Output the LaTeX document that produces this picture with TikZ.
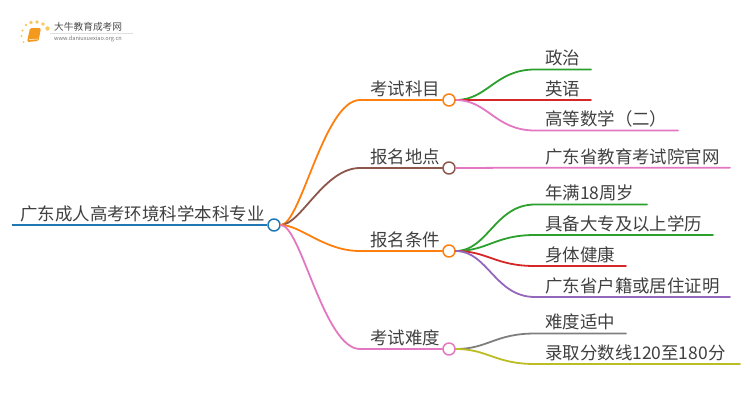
\documentclass[tikz,border=0pt]{standalone}
\usepackage{fontspec}
\setmainfont{Noto Sans CJK SC}

\definecolor{cBlue}{HTML}{1F77B4}
\definecolor{cOrange}{HTML}{FF7F0E}
\definecolor{cBrown}{HTML}{8C564B}
\definecolor{cPink}{HTML}{E377C2}
\definecolor{cGreen}{HTML}{2CA02C}
\definecolor{cRed}{HTML}{D62728}
\definecolor{cPurple}{HTML}{9467BD}
\definecolor{cGray}{HTML}{7F7F7F}
\definecolor{cOlive}{HTML}{BCBD22}
\definecolor{cText}{HTML}{404040}
\definecolor{cBook}{HTML}{F39A1E}
\definecolor{cSpark}{HTML}{F9C75C}

\tikzset{
  label/.style={anchor=south west, inner sep=0pt, text height=15pt, text depth=4.5pt,
    text=cText, font=\fontsize{17.45}{20}\selectfont},
  dot/.style={circle, draw, fill=white, line width=1.5pt, minimum size=12pt, inner sep=0pt},
  wire/.style={line width=1.8pt, line cap=round},
}

\begin{document}
\begin{tikzpicture}[x=1pt,y=-1pt, line join=round]

\useasboundingbox (0,0) rectangle (750,410);

% -----------------------------
% Logo
% -----------------------------
\foreach \px/\py/\pr in {26/25/1.4,31/22.5/1.8,37/22/1.9,43/24/1.9,47.5/28.5/2.2,22.5/30.5/1.2,21.5/36/1.1,23.5/42/1}
  \fill[cSpark] (\px,\py) circle (\pr);
\fill[cBook, rounded corners=1.5pt] (30,28) -- (41,28) -- (38.5,41) -- (27,42) -- cycle;
\draw[white, line width=0.5pt] (29,39.5) -- (38,39);
\node[anchor=west, inner sep=0pt, text=black!70, font=\fontsize{9.7}{11}\selectfont] (logoname) at (54,27) {大牛教育成考网};
\node[anchor=west, inner sep=0pt, text=black!55, font=\fontsize{5.6}{7}\selectfont] (logourl) at (54,39) {www.daniuxuexiao.org.cn};
\draw[black!12, line width=0.4pt] (50,33.5) -- (133,33.5);

% -----------------------------
% Root
% -----------------------------
\node[label] (root) at (20,225) {广东成人高考环境科学本科专业};
\node[dot, draw=cBlue] (rootdot) at (274,225) {};
\coordinate (rootstart) at (12,225);
\draw[cBlue, line width=2.4pt] (rootstart) -- (rootdot.west);

% -----------------------------
% Branches (circle last, so it covers the line end)
% -----------------------------
\foreach \nm/\yy/\col/\txt in {kemu/100/cOrange/考试科目, didian/168/cBrown/报名地点,
                               tiaojian/251/cOrange/报名条件, nandu/349/cPink/考试难度} {
  \node[label] (\nm) at (370,\yy) {\txt};
  \coordinate (\nm start) at (360,\yy);
  \node[dot, draw=\col] (\nm dot) at (449,\yy) {};
  \draw[wire, \col] (rootdot.east) .. controls +(20,0) and +(-36,0) .. (\nm start) -- (\nm dot.west);
}

% -----------------------------
% Leaves: name / line height / parent / colour / line end / text
% -----------------------------
\foreach \nm/\yy/\up/\col/\xend/\txt in {
    zhengzhi/69.5/kemu/cGreen/591/政治,
    yingyu/100/kemu/cRed/591/英语,
    gaoshu/130.5/kemu/cPink/678/高等数学（二）,
    guanwang/167.7/didian/cPink/730/广东省教育考试院官网,
    nianman/204.5/tiaojian/cGreen/647/年满18周岁,
    juli/235/tiaojian/cGreen/713/具备大专及以上学历,
    shenti/266/tiaojian/cRed/626/身体健康,
    huji/297/tiaojian/cPurple/730/广东省户籍或居住证明,
    shidu/333.5/nandu/cGray/626/难度适中,
    luqu/364/nandu/cOlive/740/录取分数线120至180分} {
  \node[label] (\nm) at (545,\yy) {\txt};
  \coordinate (\nm mid) at (535,\yy);
  \coordinate (\nm end) at (\xend,\yy);
  \draw[wire, \col] (\up dot.east) .. controls +(32,0) and +(-40,0) .. (\nm mid) -- (\nm end);
}

\end{tikzpicture}
\end{document}
